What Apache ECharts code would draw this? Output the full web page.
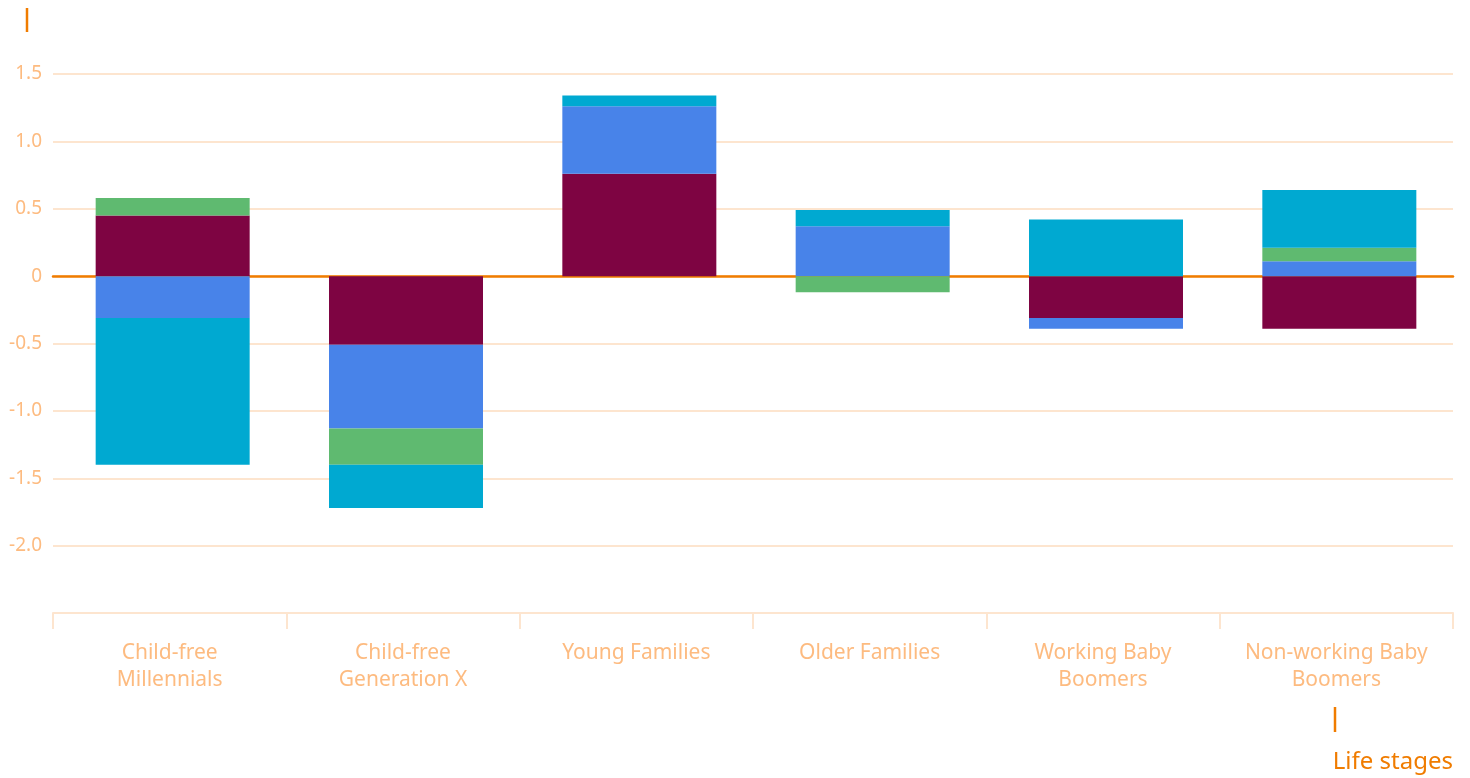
<!DOCTYPE html>
<html>
<head>
<meta charset="utf-8">
<title>Life stages</title>
<script src="https://cdn.jsdelivr.net/npm/echarts@6/dist/echarts.min.js"></script>
<style>
  html, body { margin: 0; padding: 0; background: #ffffff; }
  #chart { width: 1470px; height: 778px; }
</style>
</head>
<body>
<div id="chart"></div>
<script>
// Life stage groups along the x axis
const categories = [
  'Child-free\nMillennials',
  'Child-free\nGeneration X',
  'Young Families',
  'Older Families',
  'Working Baby\nBoomers',
  'Non-working Baby\nBoomers'
];

// Stacked components, bottom to top of each stack
const maroonValues = [0.45, -0.51, 0.76, 0, -0.31, -0.39];
const blueValues   = [-0.31, -0.62, 0.50, 0.37, -0.08, 0.11];
const greenValues  = [0.13, -0.27, 0, -0.12, 0, 0.10];
const cyanValues   = [-1.09, -0.32, 0.08, 0.12, 0.42, 0.43];

// Value axis range and ticks
const yMin = -2.5;
const yMax = 1.5;
const yStep = 0.5;

const ORANGE = '#f07c00';
const LABEL = '#fdbb80';
const GRID = '#fde5cf';
const FONT = '"Noto Sans", "Open Sans", sans-serif';

const chart = echarts.init(document.getElementById('chart'), null, { renderer: 'canvas' });

function barSeries(name, data, color) {
  return {
    name: name,
    type: 'bar',
    xAxisIndex: 2,
    yAxisIndex: 1,
    stack: 'total',
    stackStrategy: 'samesign',
    barWidth: '66%',
    data: data,
    itemStyle: { color: color },
    emphasis: { disabled: true }
  };
}

chart.setOption({
  animation: false,
  textStyle: { fontFamily: FONT },
  grid: [
    // axes, grid lines and labels
    { left: 53, right: 17, top: 74, bottom: 165 },
    // bars sit a few pixels right of the category centres
    { left: 56, right: 14, top: 74, bottom: 165 }
  ],
  xAxis: [
    {
      type: 'category',
      gridIndex: 0,
      data: categories,
      position: 'bottom',
      axisLine: { onZero: false, lineStyle: { color: GRID, width: 2 } },
      axisTick: { show: true, length: 16, lineStyle: { color: GRID, width: 2 } },
      axisLabel: {
        color: LABEL,
        fontSize: 21,
        lineHeight: 27,
        margin: 27,
        interval: 0,
        fontFamily: FONT
      },
      splitLine: { show: false }
    },
    {
      // zero baseline
      type: 'category',
      gridIndex: 0,
      data: categories,
      position: 'top',
      axisLine: { show: true, onZero: true, lineStyle: { color: ORANGE, width: 2.5 } },
      axisTick: { show: false },
      axisLabel: { show: false },
      splitLine: { show: false }
    },
    {
      type: 'category',
      gridIndex: 1,
      data: categories,
      show: false
    }
  ],
  yAxis: [
    {
      type: 'value',
      gridIndex: 0,
      min: yMin,
      max: yMax,
      interval: yStep,
      axisLine: { show: false },
      axisTick: { show: false },
      axisLabel: {
        color: LABEL,
        fontSize: 19,
        margin: 11,
        fontFamily: FONT,
        formatter: function (v) {
          if (Math.abs(v - yMin) < 1e-9) return '';
          if (Math.abs(v) < 1e-9) return '0';
          return v.toFixed(1);
        }
      },
      splitLine: { lineStyle: { color: GRID, width: 2 } }
    },
    {
      type: 'value',
      gridIndex: 1,
      min: yMin,
      max: yMax,
      interval: yStep,
      show: false,
      splitLine: { show: false }
    }
  ],
  series: [
    barSeries('Maroon', maroonValues, '#7e0442'),
    barSeries('Blue', blueValues, '#4883e9'),
    barSeries('Green', greenValues, '#5fba70'),
    barSeries('Cyan', cyanValues, '#00a9d1')
  ],
  graphic: [
    {
      type: 'line',
      shape: { x1: 27, y1: 8, x2: 27, y2: 32 },
      style: { stroke: ORANGE, lineWidth: 2.5 }
    },
    {
      type: 'line',
      shape: { x1: 1335, y1: 707, x2: 1335, y2: 732 },
      style: { stroke: ORANGE, lineWidth: 2.5 }
    },
    {
      type: 'text',
      right: 17,
      top: 750,
      style: {
        text: 'Life stages',
        fill: ORANGE,
        font: '24px ' + FONT
      }
    }
  ]
});
</script>
</body>
</html>
